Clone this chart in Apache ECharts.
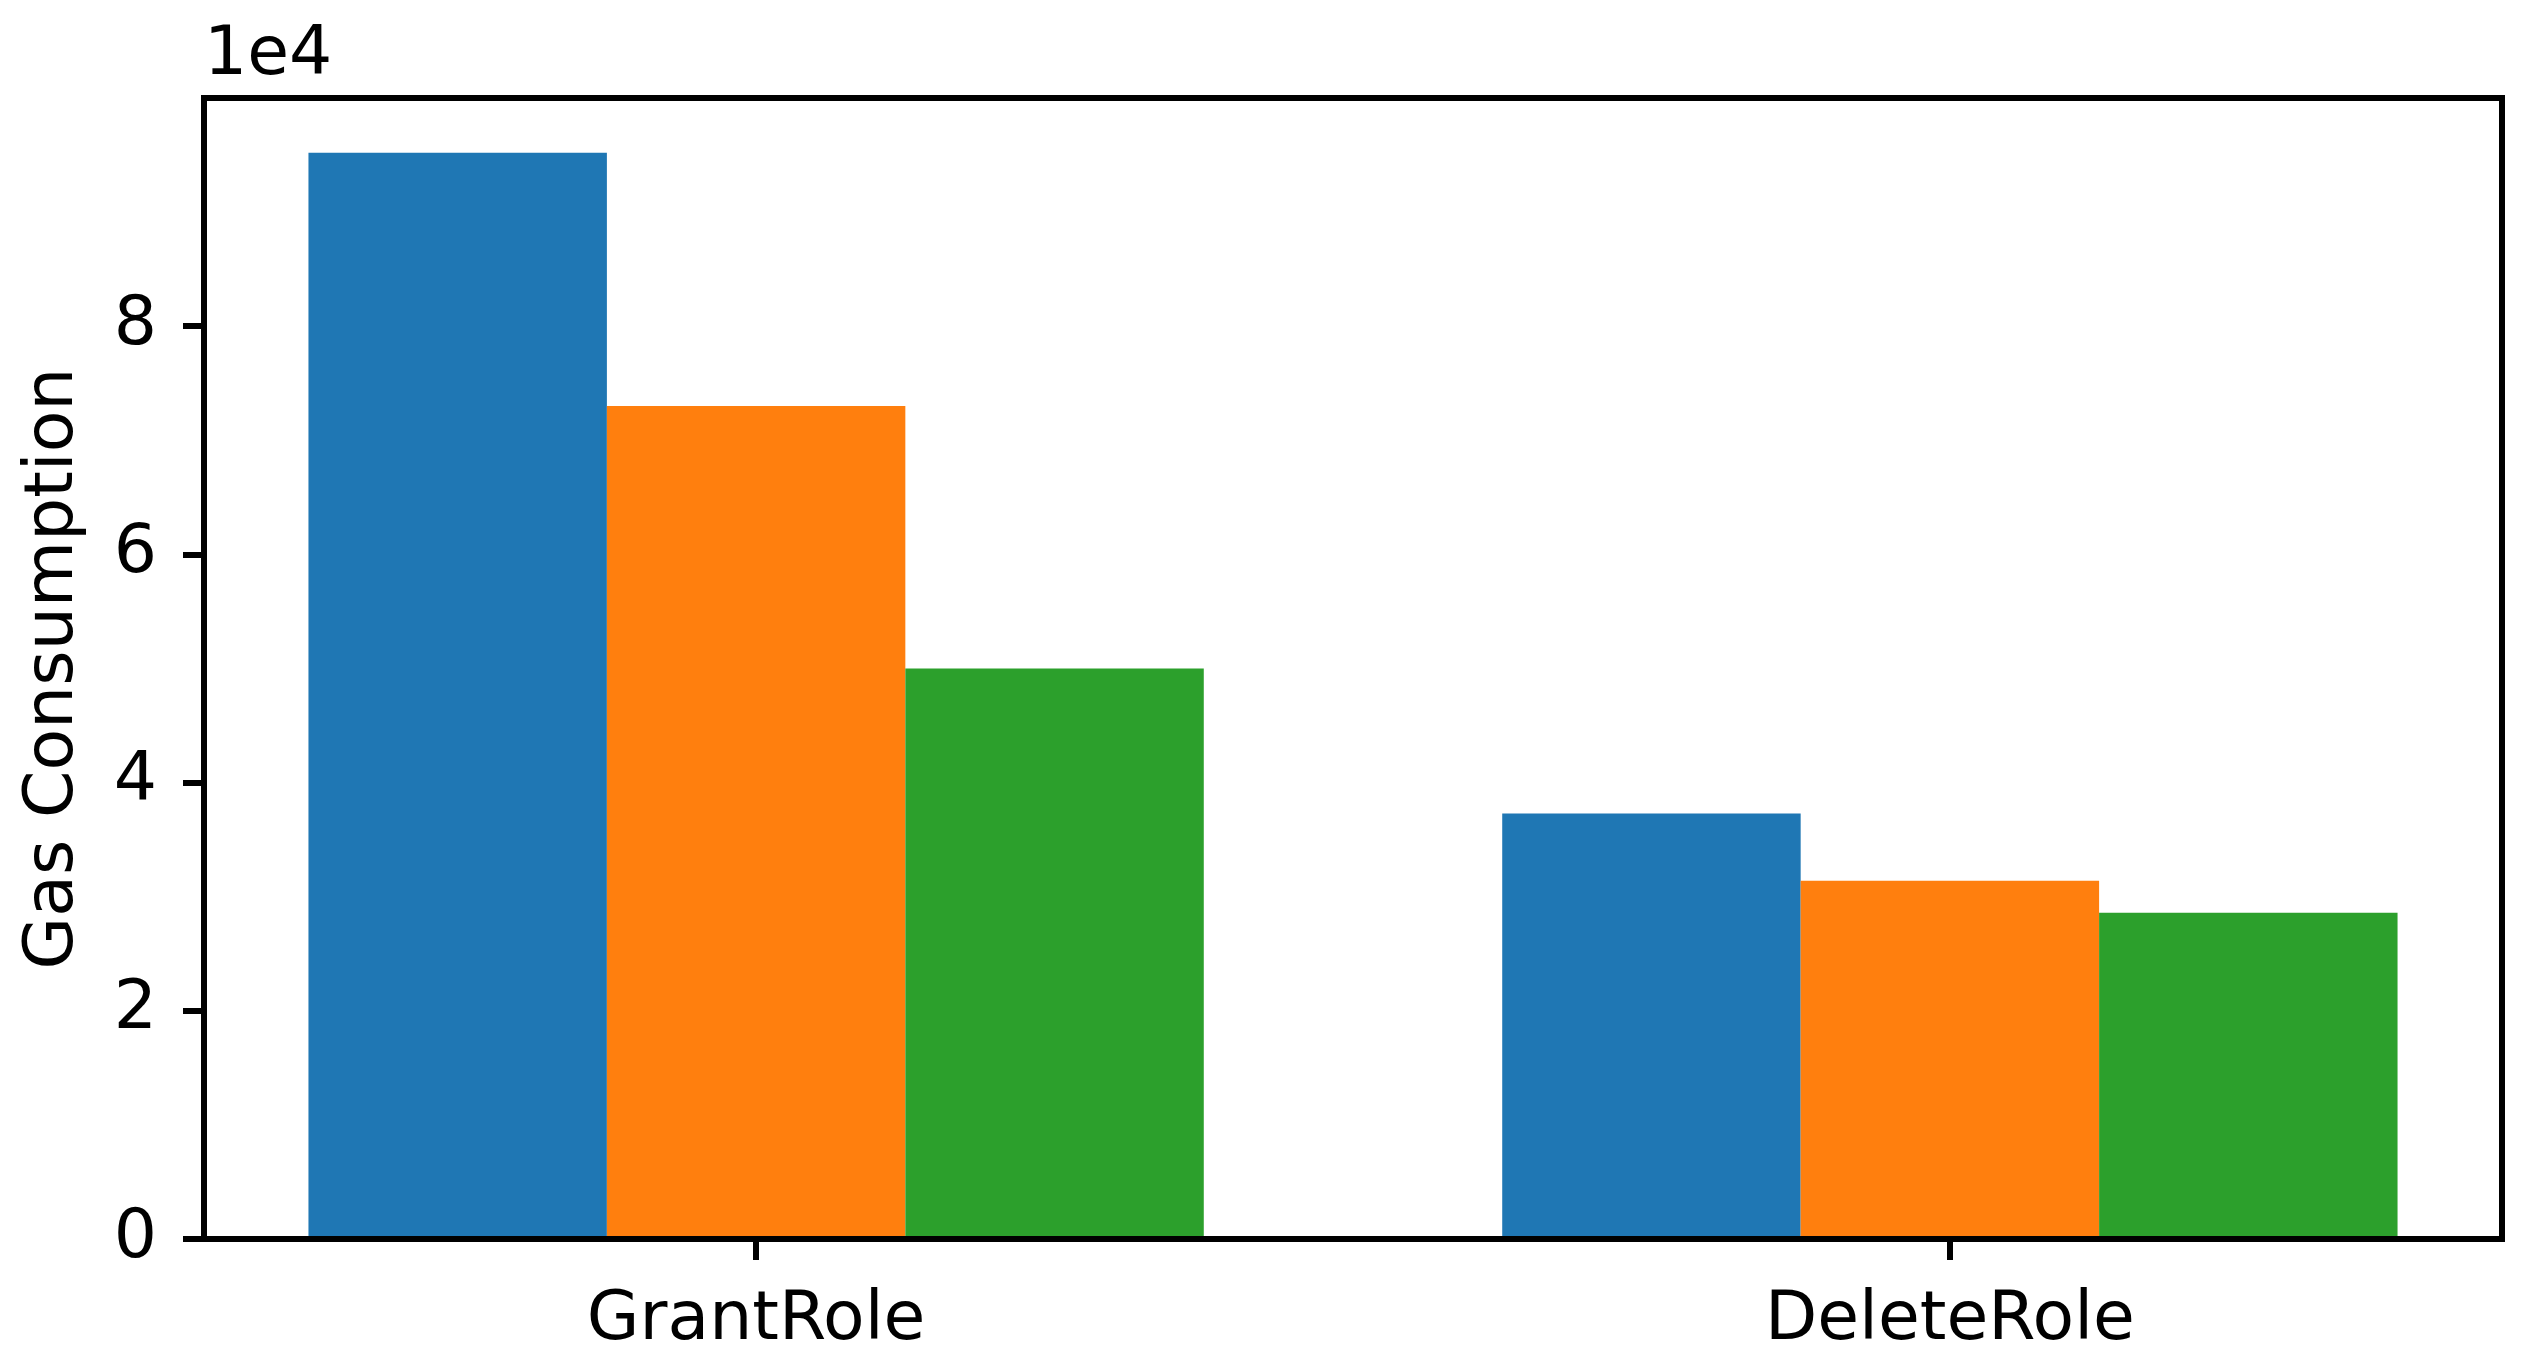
<!DOCTYPE html>
<html>
<head>
<meta charset="utf-8">
<script src="https://cdn.jsdelivr.net/npm/echarts@6/dist/echarts.min.js"></script>
<style>
  html, body { margin: 0; padding: 0; background: #fff; }
  #chart { width: 2523px; height: 1360px; }
</style>
</head>
<body>
<div id="chart"></div>
<script>
const categories = ['GrantRole', 'DeleteRole']
const categoryPositions = [0, 1]
const blueValues = [95200, 37300]
const orangeValues = [73000, 31400]
const greenValues = [50000, 28600]
const yTicks = [0, 20000, 40000, 60000, 80000]

const FONT = 'DejaVu Sans'
const FONT_SIZE = 68
const LINE_WIDTH = 6
const colors = ['#1f77b4', '#ff7f0e', '#2ca02c']

const toPoints = (values) => values.map((v, i) => [categoryPositions[i], v])

const makeSeries = (values, color) => ({
  type: 'bar',
  barGap: '0%',
  barCategoryGap: '25%',
  itemStyle: { color: color },
  data: toPoints(values)
})

const chart = echarts.init(document.getElementById('chart'))
chart.setOption({
  animation: false,
  grid: {
    left: 204,
    right: 21,
    top: 98,
    bottom: 121,
    show: true,
    borderColor: '#000',
    borderWidth: LINE_WIDTH,
    backgroundColor: 'transparent'
  },
  graphic: [{
    type: 'text',
    left: 204,
    top: 22,
    style: { text: '1e4', font: `${FONT_SIZE}px "${FONT}"`, fill: '#000' }
  }],
  xAxis: {
    type: 'value',
    min: -0.4625,
    max: 1.4625,
    z: 10,
    axisLine: { show: true, onZero: false, lineStyle: { color: '#000', width: LINE_WIDTH } },
    axisTick: { show: true, length: 21, lineStyle: { color: '#000', width: LINE_WIDTH }, customValues: categoryPositions },
    axisLabel: {
      customValues: categoryPositions,
      formatter: (v) => categories[Math.round(v)],
      fontFamily: FONT,
      fontSize: FONT_SIZE,
      color: '#000',
      margin: 48
    },
    splitLine: { show: false }
  },
  yAxis: {
    type: 'value',
    min: 0,
    max: 100000,
    z: 10,
    name: 'Gas Consumption',
    nameLocation: 'middle',
    nameGap: 116,
    nameTextStyle: { fontFamily: FONT, fontSize: FONT_SIZE, color: '#000' },
    axisLine: { show: true, onZero: false, lineStyle: { color: '#000', width: LINE_WIDTH } },
    axisTick: { show: true, length: 21, lineStyle: { color: '#000', width: LINE_WIDTH }, customValues: yTicks },
    axisLabel: {
      customValues: yTicks,
      formatter: (v) => String(v / 10000),
      fontFamily: FONT,
      fontSize: FONT_SIZE,
      color: '#000',
      margin: 47
    },
    splitLine: { show: false }
  },
  series: [
    makeSeries(blueValues, colors[0]),
    makeSeries(orangeValues, colors[1]),
    makeSeries(greenValues, colors[2])
  ]
})
</script>
</body>
</html>
